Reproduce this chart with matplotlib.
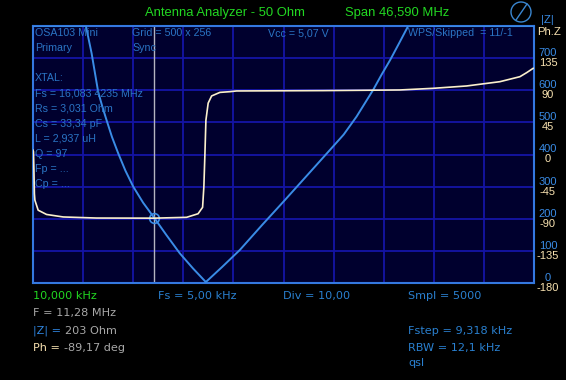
import numpy as np
import matplotlib
matplotlib.use("Agg")
import matplotlib.pyplot as plt
from matplotlib.patches import Ellipse
from matplotlib.lines import Line2D

# ---- data ----
f_start, f_stop = 0.01, 46.60          # MHz
z_freq = [0.01, 4.93, 5.46, 6.07, 6.45, 6.85, 7.35, 7.93, 8.6, 9.33, 10.25, 11.28,
          12.4, 13.67, 14.9, 16.083, 17.6, 19.25, 21.3, 23.43, 25.5, 27.62, 28.9,
          30.10, 31.64, 32.4, 33.22, 34.05, 34.90, 46.60]
z_mag  = [800, 800, 715, 595, 550, 507, 455, 404, 350, 300, 250, 203,
          150, 92, 45, 3, 50, 103, 180, 258, 335, 414, 462,
          518, 601, 647, 694, 746, 800, 800]

ph_freq = [0.01, 0.05, 0.093, 0.14, 0.186, 0.49, 1.27, 2.82, 5.92, 11.28, 14.29,
           15.36, 15.78, 15.90, 16.00, 16.09, 16.30, 16.62, 17.39, 18.32, 18.94,
           27.0, 34.13, 37.22, 40.33, 43.43, 45.29, 45.91, 46.52]
ph_deg  = [6, 4, -20, -55, -64, -78, -84, -87.5, -89, -89.17, -88,
           -83, -74, -45, 2, 48, 72, 82, 87, 88, 89,
           89.5, 90.4, 92.7, 96, 102, 109, 114.6, 120.7]

cursor_f, cursor_z = 11.28, 203

z_ticks = [0, 100, 200, 300, 400, 500, 600, 700]
ph_ticks = [-180, -135, -90, -45, 0, 45, 90, 135]

info_lines = ["XTAL:", "Fs = 16,083 4235 MHz", "Rs = 3,031 Ohm", "Cs = 33,34 pF",
              "L = 2,937 uH", "Q = 97", "Fp = ...", "Cp = ..."]

# ---- colours ----
BG = "#000000"
PLOT_BG = "#00002e"
GRID = "#1414a6"
FRAME = "#3478e0"
ZCOL = "#3a8ce6"
PHCOL = "#fbf0cc"
TXTBLUE = "#2a74c4"
GREEN = "#22d822"
GREY = "#a8a8a8"
CREAM = "#f8e2b0"

FONT = ["Liberation Sans", "DejaVu Sans"]
FONT_BOT = ["DejaVu Sans"]

W, H = 566, 380
fig = plt.figure(figsize=(W / 100, H / 100), dpi=100, facecolor=BG)
L, T, R, B = 33, 26, 534, 283
ax = fig.add_axes([L / W, 1 - B / H, (R - L) / W, (B - T) / H])
ax.set_facecolor(PLOT_BG)
ax.set_xlim(f_start, f_stop)
ax.set_ylim(0, 800)
ax.set_xticks(np.linspace(f_start, f_stop, 11))
ax.set_yticks(np.arange(0, 801, 100))
ax.grid(True, color=GRID, lw=1.3)
ax.tick_params(length=0, labelleft=False, labelbottom=False)
for s in ax.spines.values():
    s.set_color(FRAME)
    s.set_linewidth(1.5)

ax2 = ax.twinx()
ax2.set_ylim(-180, 180)
ax2.set_yticks([])
for s in ax2.spines.values():
    s.set_visible(False)

ax.axvline(cursor_f, color="#b4b4c0", lw=1.0, zorder=2)
ax2.plot(ph_freq, ph_deg, color=PHCOL, lw=1.2, zorder=3)
ax.plot(z_freq, z_mag, color=ZCOL, lw=1.4, zorder=4, clip_on=True)
ax.plot([cursor_f], [cursor_z], marker="o", ms=7, mfc="none", mec=ZCOL, mew=1.2, zorder=5)

FS_IN = 7.7
FS_BOT = 8.1


def ptxt(x, y, s, color=TXTBLUE, fs=FS_IN, family=FONT, **kw):
    return fig.text(x / W, 1 - y / H, s, color=color, fontsize=fs, va="center",
                    ha="left", family=family, **kw)


ptxt(35, 33, "OSA103 Mini")
ptxt(35, 48, "Primary")
ptxt(132, 33, "Grid = 500 x 256")
ptxt(132, 48, "Sync")
ptxt(268, 33, "Vcc = 5,07 V")
ptxt(408, 33, "WPS/Skipped  = 11/-1")
for i, s in enumerate(info_lines):
    ptxt(35, 78 + i * 15.2, s)

# title
ptxt(145, 13, "Antenna Analyzer - 50 Ohm", color=GREEN, fs=9.4)
ptxt(345, 13, "Span 46,590 MHz", color=GREEN, fs=9.4)

# gauge icon
fig.patches.append(Ellipse((521 / W, 1 - 12 / H), 20 / W, 20 / H, transform=fig.transFigure,
                           fill=False, ec="#3a86d0", lw=1.0))
fig.lines.append(Line2D([516 / W, 527 / W], [1 - 20 / H, 1 - 4 / H],
                        transform=fig.transFigure, color="#3a86d0", lw=1.0))

# right axis labels
ptxt(541, 20, "|Z|", color="#3a8ce6", fs=8.2)
ptxt(537, 32, "Ph.Z", color=CREAM, fs=8.2)
for zv, pv in zip(z_ticks, ph_ticks):
    ygrid = B - (zv / 800) * (B - T)
    fig.text(548 / W, 1 - (ygrid - 5) / H, str(zv), color="#3a8ce6", fontsize=8.0,
             ha="center", va="center", family=FONT)
    fig.text(548 / W, 1 - (ygrid + 5) / H, str(pv), color=CREAM, fontsize=8.0,
             ha="center", va="center", family=FONT)

# bottom text
ptxt(33, 296, "10,000 kHz", color=GREEN, fs=FS_BOT, family=FONT_BOT)
ptxt(33, 313, "F = 11,28 MHz", color=GREY, fs=FS_BOT, family=FONT_BOT)
t = ptxt(33, 331, "|Z| = ", color="#2f86e0", fs=FS_BOT, family=FONT_BOT)
fig.canvas.draw()
bb = t.get_window_extent()
fig.text(bb.x1 / W, 1 - 331 / H, "203 Ohm", color=GREY, fontsize=FS_BOT, va="center",
         family=FONT_BOT)
t2 = ptxt(33, 348, "Ph = ", color=CREAM, fs=FS_BOT, family=FONT_BOT)
fig.canvas.draw()
bb2 = t2.get_window_extent()
fig.text(bb2.x1 / W, 1 - 348 / H, "-89,17 deg", color=GREY, fontsize=FS_BOT, va="center",
         family=FONT_BOT)

ptxt(158, 296, "Fs = 5,00 kHz", color="#2a80d0", fs=FS_BOT, family=FONT_BOT)
ptxt(283, 296, "Div = 10,00", color="#2a80d0", fs=FS_BOT, family=FONT_BOT)
ptxt(408, 296, "Smpl = 5000", color="#2a80d0", fs=FS_BOT, family=FONT_BOT)
ptxt(408, 331, "Fstep = 9,318 kHz", color="#2a80d0", fs=FS_BOT, family=FONT_BOT)
ptxt(408, 348, "RBW = 12,1 kHz", color="#2a80d0", fs=FS_BOT, family=FONT_BOT)
ptxt(408, 363, "qsl", color="#2a80d0", fs=FS_BOT, family=FONT_BOT)

fig.savefig("out.png", dpi=100, facecolor=BG)
